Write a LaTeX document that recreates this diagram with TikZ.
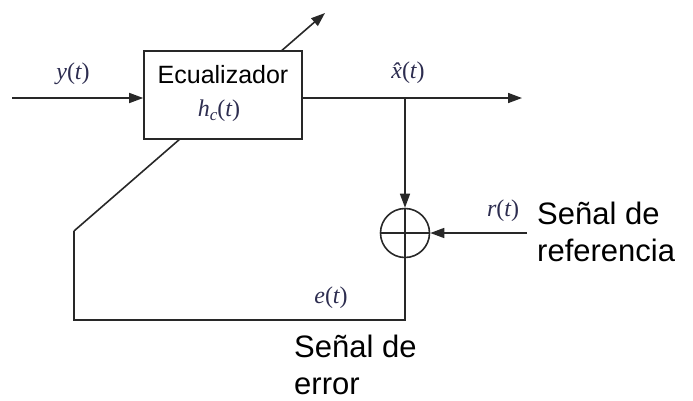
\documentclass[tikz,border=0pt]{standalone}
\usepackage{fontspec}
\setmainfont{Liberation Sans}
\newfontfamily\tms{Liberation Serif}
\usetikzlibrary{arrows.meta,backgrounds}
\definecolor{mathc}{RGB}{45,45,80}
\begin{document}
\begin{tikzpicture}[x=1pt,y=-1pt,
  ln/.style={line width=1.6pt,draw={rgb,255:red,40;green,40;blue,40}},
  arr/.style={ln,-{Triangle[length=14pt,width=10pt]}},
  ml/.style={text=mathc,font=\tms\fontsize{24}{27}\selectfont\itshape,inner sep=0pt},
  big/.style={font=\fontsize{31}{37}\selectfont,align=left,inner sep=0pt,anchor=west}]
\useasboundingbox (0,0) rectangle (693,400);
\node[ln,draw,fill=white,minimum width=158pt,minimum height=88pt,inner sep=0pt] (eq) at (223,95) {};
\node[font=\fontsize{25}{28}\selectfont,inner sep=0pt] (eqt) at (223,75) {Ecualizador};
\node[ml] (hc) at (219,111) {h\raisebox{-4pt}{\fontsize{17}{18}\selectfont c}\upshape(\itshape t\upshape)};
\coordinate (in) at (12,98);
\draw[arr] (in) -- (eq.west |- in);
\node[ml] (yl) at (73,74) {y\upshape(\itshape t\upshape)};
\coordinate (out) at (522,98);
\coordinate (br) at (405,98);
\draw[arr] (eq.east |- out) -- (out);
\node[ml] (xl) at (408,73) {\^x\upshape(\itshape t\upshape)};
\node[ln,draw,circle,minimum size=49pt,inner sep=0pt] (sum) at (405,233) {};
\draw[ln] (sum.north) -- (sum.south) (sum.west) -- (sum.east);
\draw[arr] (br) -- (sum.north);
\coordinate (rin) at (527,233);
\draw[arr] (rin) -- (sum.east);
\node[ml] (rl) at (503,211) {r\upshape(\itshape t\upshape)};
\coordinate (c1) at (405,320);
\coordinate (c2) at (74,320);
\coordinate (c3) at (74,231);
\coordinate (tip) at (325,13);
\begin{scope}[on background layer]
\draw[ln] (sum.south) -- (c1) -- (c2) -- (c3);
\draw[arr] (c3) -- (tip);
\end{scope}
\node[ml] (el) at (331,298) {e\upshape(\itshape t\upshape)};
\node[big] (sr) at (537,232) {Señal de\\referencia};
\node[big] (se) at (294,365) {Señal de\\error};
\end{tikzpicture}
\end{document}
